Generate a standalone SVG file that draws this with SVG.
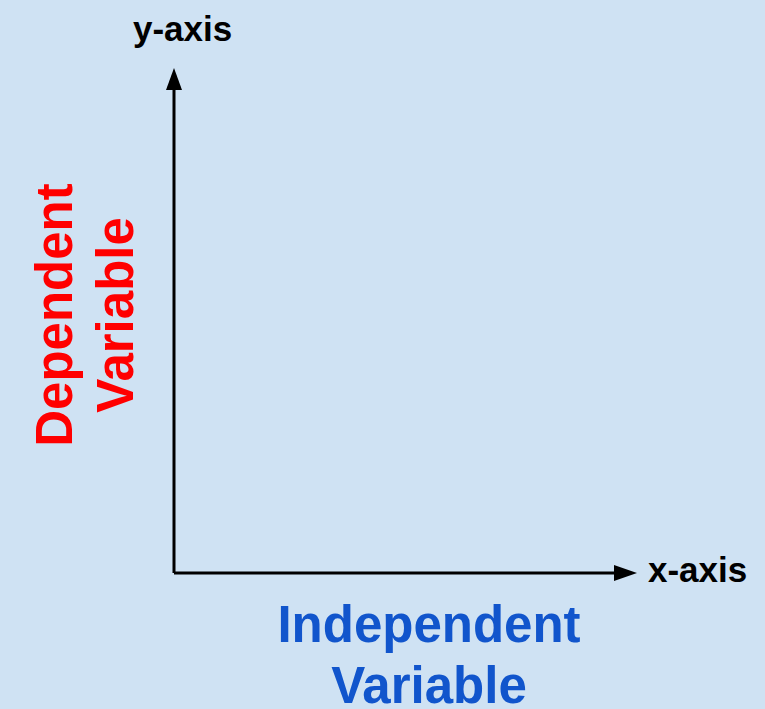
<svg xmlns="http://www.w3.org/2000/svg" width="765" height="709" viewBox="0 0 765 709">
<defs>
<style>
.ax{font-family:"Liberation Sans",Arial,sans-serif;font-weight:bold;font-size:35px;fill:#000}
.big{font-family:"Liberation Sans",Arial,sans-serif;font-weight:bold;font-size:51px;text-anchor:middle}
.axis{stroke:#000;stroke-width:3;fill:none}
</style>
</defs>
<rect width="765" height="709" fill="#cfe2f3"/>
<g id="connectors">
<path class="axis" d="M174,573 L174,88"/>
<path d="M174,68 L166,90 L182,90 z" fill="#000"/>
<path class="axis" d="M174,573 L616,573"/>
<path d="M637,573 L614,565 L614,581 z" fill="#000"/>
</g>
<g id="y-axis-label"><text class="ax" x="133" y="41">y-axis</text></g>
<g id="x-axis-label"><text class="ax" x="648" y="582">x-axis</text></g>
<g id="dependent-variable">
<text class="big" fill="#ff0000" transform="translate(72,315) rotate(-90)">Dependent</text>
<text class="big" fill="#ff0000" transform="translate(133,315) rotate(-90)">Variable</text>
</g>
<g id="independent-variable">
<text class="big" fill="#1155cc" x="429" y="642">Independent</text>
<text class="big" fill="#1155cc" x="429" y="703">Variable</text>
</g>
</svg>
